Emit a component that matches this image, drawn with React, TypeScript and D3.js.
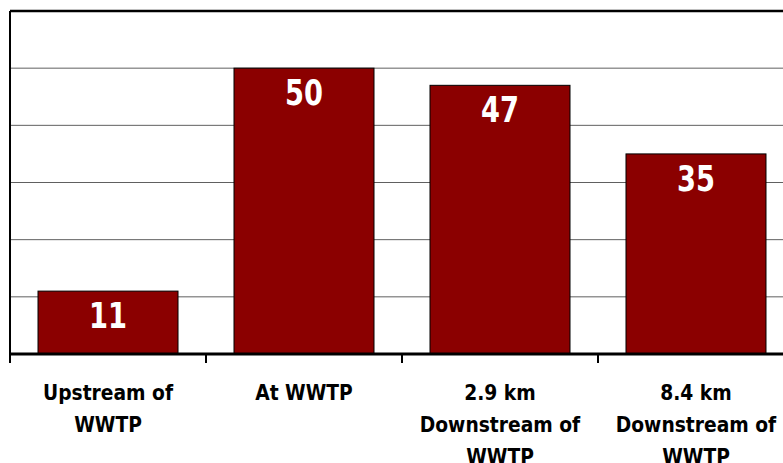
import React from "react";
import * as d3 from "d3";

const categories: string[][] = [
  ["Upstream of", "WWTP"],
  ["At WWTP"],
  ["2.9 km", "Downstream of", "WWTP"],
  ["8.4 km", "Downstream of", "WWTP"],
];
const values: number[] = [11, 50, 47, 35];
const yTicks: number[] = [0, 10, 20, 30, 40, 50, 60];

const W = 783;
const H = 463;

export default function App() {
  const keys = categories.map((c) => c.join(" "));
  const x = d3
    .scaleBand<string>()
    .domain(keys)
    .range([10, 794])
    .paddingInner(0.2857)
    .paddingOuter(0.1429);
  const y = d3.scaleLinear().domain([0, 60]).range([354, 11]);
  const step = x.step();
  const font = "Tahoma, 'DejaVu Sans', Verdana, sans-serif";

  return (
    <svg
      width={W}
      height={H}
      style={{ position: "absolute", left: 0, top: 0, background: "#fff" }}
    >
      {/* gridlines */}
      {yTicks.slice(1, -1).map((t) => (
        <line key={t} x1={10} x2={W} y1={y(t)} y2={y(t)} stroke="#606060" strokeWidth={1} />
      ))}
      {/* top border */}
      <line x1={10} x2={W} y1={y(60)} y2={y(60)} stroke="#000" strokeWidth={2.5} />
      {/* y axis */}
      <line x1={10} x2={10} y1={y(60)} y2={y(0)} stroke="#000" strokeWidth={2} />
      {/* bars */}
      {values.map((v, i) => (
        <rect
          key={i}
          x={x(keys[i])!}
          y={y(v)}
          width={x.bandwidth()}
          height={y(0) - y(v)}
          fill="#8B0000"
          stroke="#000"
          strokeWidth={1}
        />
      ))}
      {/* value labels */}
      {values.map((v, i) => {
        const cx = x(keys[i])! + x.bandwidth() / 2;
        return (
          <text
            key={i}
            x={0}
            y={y(v) + 37}
            textAnchor="middle"
            fill="#fff"
            fontFamily={font}
            fontWeight="bold"
            fontSize={35}
            transform={`translate(${cx},0) scale(0.78,1)`}
          >
            {v}
          </text>
        );
      })}
      {/* baseline */}
      <line x1={10} x2={W} y1={y(0)} y2={y(0)} stroke="#000" strokeWidth={3} />
      {/* ticks */}
      {d3.range(categories.length + 1).map((i) => (
        <line
          key={i}
          x1={10 + i * step}
          x2={10 + i * step}
          y1={y(0)}
          y2={y(0) + 9}
          stroke="#000"
          strokeWidth={2}
        />
      ))}
      {/* category labels */}
      {categories.map((lines, i) => {
        const cx = x(keys[i])! + x.bandwidth() / 2;
        return (
          <text
            key={i}
            textAnchor="middle"
            fontFamily={font}
            fontWeight="bold"
            fontSize={22}
            fill="#000"
            transform={`translate(${cx},0) scale(0.85,1)`}
          >
            {lines.map((l, j) => (
              <tspan key={j} x={0} y={400 + j * 32}>
                {l}
              </tspan>
            ))}
          </text>
        );
      })}
    </svg>
  );
}
